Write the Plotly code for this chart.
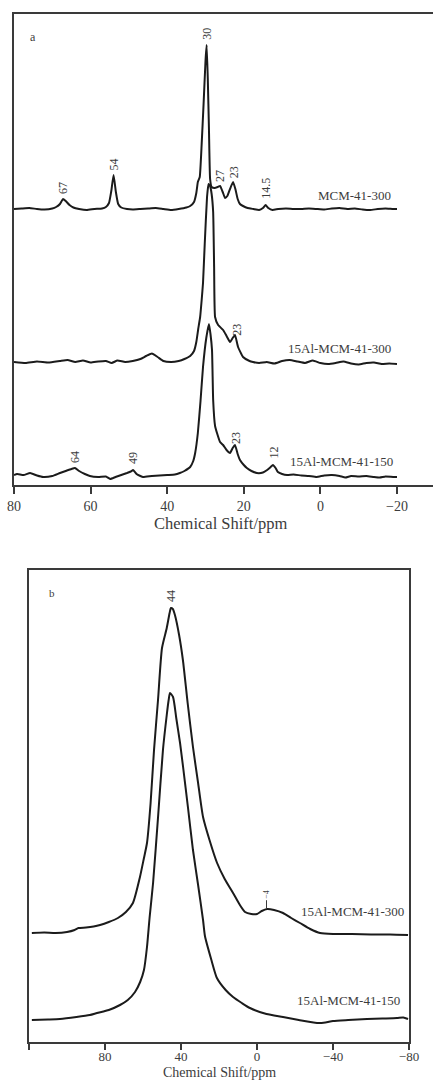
import numpy as np
import plotly.graph_objects as go

# ================= Panel a : 13C NMR (ppm, intensity a.u. above own baseline) =================
a_mcm300_ppm = [80, 78, 76, 74, 72, 70, 69, 68, 67.2, 66.5, 65.5, 64.5, 63, 61, 59, 57, 56, 55.2, 54.6,
                54.0, 53.4, 52.8, 52, 50.5, 49, 47, 45, 43, 41, 39, 37, 35, 34, 33, 32.4, 32.0, 31.5,
                31.0, 30.5, 30.0, 29.7, 29.4, 29.1, 28.8, 28.4, 27.6, 26.8, 26.2, 25.5, 24.9, 24.3,
                23.6, 22.8, 22.2, 21.6, 21.0, 20.2, 19, 17.5, 16, 15, 14.3, 13.6, 12.5, 11, 9, 7, 5,
                3, 1, -1, -3, -5, -7, -9, -11, -13, -15, -17, -19, -20]
a_mcm300_int = [0, 0.5, 1, 0, -0.5, 0.5, 2, 5, 10, 8, 4, 1.5, 0, -1, 0, 0.5, 2, 6, 18,
                34, 17, 5, 1.5, 0, -0.5, 0, 0.5, 1, 0, -1, 0, 1.5, 3, 7, 16, 27, 32,
                65, 105, 148, 164, 130, 80, 30, 22, 21, 22, 23, 17, 11, 13,
                20, 27, 20, 10, 5, 3, 1, 0, -1, 1, 4, 1, -1, 0, 0.5, 0, 0,
                0.5, 0, -0.5, 0.5, 1, 0, 0.5, -0.5, -1, 0, 0.5, 0, 0]

a_al300_ppm = [80, 77, 74, 71, 68, 66, 64, 62, 60, 58, 56, 54.5, 53, 51, 49, 47, 45.5, 44, 42.5, 41,
               39, 37, 35.5, 34, 33, 32.4, 31.9, 31.4, 31.0, 30.65, 30.2, 29.6, 29.2, 28.8, 28.4,
               28.0, 27.75, 27.5, 26.7, 25.4, 24.5, 23.6, 22.9, 22.3, 21.5, 20.2, 18.5, 17.6, 16,
               14, 12, 10, 8, 6, 4, 2, 0, -2, -4, -6, -8, -10, -12, -14, -16, -18, -20]
a_al300_int = [0, -1, 0.5, -0.5, 1, 2, 0, 1.5, -0.5, 0.5, 1, -1, 1.5, 0, 1, 3, 6, 8.5, 5, 1,
               0, 1, 3, 6, 11, 20, 33, 45, 62, 79, 118, 165, 178, 176, 168,
               150, 95, 45, 37, 32, 26, 20, 24, 27, 15, 5, 1, 0, -1,
               0, -1.5, 1, 2, 0.5, -1, 1.5, -1, -2, -1, 0.5, -1.5, -2.5, -1, -0.5, -2, -1.5, -2]

a_al150_ppm = [80, 79.2, 77.5, 75.8, 74, 72.4, 70, 68, 66.5, 65, 64.1, 63, 61.5, 60.2, 58, 56, 54.9,
               53.5, 52, 50.5, 49.5, 48.9, 48, 47, 46.3, 44, 42, 40, 38, 36.7, 35.5, 34, 33.2,
               32.7, 32, 31.3, 30.65, 29.8, 29.1, 28.7, 28.3, 28.0, 27.5, 27.0, 26.2, 25.4, 24.5,
               23.6, 22.9, 22.3, 21.6, 21.0, 20, 19.2, 18, 16.6, 15, 13.9, 13, 12.4, 11.7, 11.1,
               10, 8.7, 7, 5, 3, 1, -1, -3, -5, -6.5, -8, -10, -12, -14, -15.5, -17, -19, -20]
a_al150_int = [1, 2, 1, 3, 0.5, -1, 0, 3, 5, 7, 8, 5, 2, 0, -1, -0.5, -3,
               -1, 1, 3, 4.5, 6, 2, 0, -1, 0, 0.5, 1, 1.5, 3, 5, 9, 15,
               23, 43, 75, 109, 138, 152, 142, 126, 76, 50, 43, 34, 31, 26,
               23, 28, 31, 22, 16, 11, 8, 5, 3, 3.5, 6, 9, 11, 8, 4,
               2, 1, 1.5, 0.5, 0, -1, 0.5, 1, 0, -1.5, 0, -0.5, 0, -1, -1.5, -0.5, -1, -1]

a_names = ["MCM-41-300", "15Al-MCM-41-300", "15Al-MCM-41-150"]
a_offsets = [276, 123, 9]
a_ticks = [80, 60, 40, 20, 0, -20]
a_ticktext = ["80", "60", "40", "20", "0", "\u221220"]

# peak labels: (text, series index, ppm)
a_peaks = [("30", 0, 29.7), ("54", 0, 54.0), ("67", 0, 67.2), ("27", 0, 26.2), ("23", 0, 22.6),
           ("14.5", 0, 14.1), ("23", 1, 22.0), ("64", 2, 64.1), ("49", 2, 48.9), ("23", 2, 22.0),
           ("12", 2, 12.2)]
a_gaps = [3, 2, 3, 2, 4, 5, 2, 3, 4, 3, 5]

# ================= Panel b : 27Al NMR =================
b_al300_ppm = [118.5, 112, 106, 100, 96, 94, 90, 86, 82.6, 78, 73.2, 69, 65.3, 61.6, 59.5, 57.9, 56,
               54.2, 52.1, 50, 47.5, 46, 45.3, 44.3, 43.2, 41, 39, 36.5, 33.7, 31, 28.4, 25, 21, 17,
               12.6, 9, 6.3, 3, 0, -2.5, -5.3, -9, -13.7, -18, -22.6, -28, -33.2, -40, -50, -60,
               -70, -79.5]
b_al300_int = [0, 0.5, 0, 1, 3, 5, 5.5, 6.5, 8, 11, 15, 21, 30, 56, 75, 90, 130,
               183, 233, 285, 305, 320, 325, 324, 318, 298, 273, 230, 186, 150, 116, 93, 70, 54,
               40, 28, 21, 19, 19, 22, 24, 23, 20, 15, 10, 4, 0, -1, -1, -1.5,
               -1.5, -2]

b_al150_ppm = [118.5, 110, 103.7, 95, 88, 84.2, 78, 72.1, 68, 64.2, 61.5, 59.5, 57.9, 56.5, 54.7,
               52, 49.5, 47.5, 46.5, 45.8, 44.2, 42.5, 40.5, 38.9, 36.3, 33.7, 31, 28.4, 27.4, 24,
               21.1, 16.5, 12.6, 8, 3.7, -5, -13.7, -22, -31.6, -36, -40, -48, -57.9, -66, -73.7,
               -77, -79.5]
b_al150_int = [0, 0.5, 1, 3, 5, 7, 10, 15, 20, 28, 38, 50, 73, 103, 137,
               205, 270, 305, 320, 327, 323, 302, 277, 253, 212, 170, 135, 100, 84, 60,
               42, 30, 23, 17, 12, 6, 3, 0, -3, -2.5, -1, 0, 1, 1.5, 2,
               2.5, 1]

b_names = ["15Al-MCM-41-300", "15Al-MCM-41-150"]
b_offsets = [109, 22]
b_ticks = [120, 80, 40, 0, -40, -80]
b_ticktext = ["", "80", "40", "0", "\u221240", "\u221280"]

# ================= figure =================
LINE = "#1b1b1b"
AX = "#3a3a3a"
TXT = "#3c3c3c"
FONT = "Liberation Serif"
W, H = 433, 1082

fig = go.Figure()

a_series = [(a_mcm300_ppm, a_mcm300_int), (a_al300_ppm, a_al300_int), (a_al150_ppm, a_al150_int)]
for (px, py), off, nm in zip(a_series, a_offsets, a_names):
    fig.add_trace(go.Scatter(x=px, y=np.array(py) + off, mode="lines", name=nm,
                             line=dict(color=LINE, width=2, shape="spline", smoothing=0.4),
                             xaxis="x", yaxis="y"))

b_series = [(b_al300_ppm, b_al300_int), (b_al150_ppm, b_al150_int)]
for (px, py), off, nm in zip(b_series, b_offsets, b_names):
    fig.add_trace(go.Scatter(x=px, y=np.array(py) + off, mode="lines", name=nm,
                             line=dict(color=LINE, width=2, shape="spline", smoothing=0.6),
                             xaxis="x2", yaxis="y2"))

ann = []
# peak labels panel a
for (t, si, ppm), g in zip(a_peaks, a_gaps):
    px, py = a_series[si]
    yv = np.interp(ppm, px[::-1], py[::-1]) + a_offsets[si]
    ann.append(dict(x=ppm, y=yv, xref="x", yref="y", text=t, showarrow=False, textangle=-90,
                    xanchor="center", yanchor="bottom", yshift=g,
                    font=dict(family=FONT, size=12, color=TXT)))
# series names panel a
a_name_pos = [(-9.0, 14), (-5.1, 14), (-5.6, 15)]
for nm, off, (xp, ys) in zip(a_names, a_offsets, a_name_pos):
    ann.append(dict(x=xp, y=off, xref="x", yref="y", text=nm, showarrow=False,
                    xanchor="center", yanchor="middle", yshift=ys,
                    font=dict(family=FONT, size=13, color=TXT)))
ann.append(dict(x=75, y=448, xref="x", yref="y", text="a", showarrow=False,
                font=dict(family=FONT, size=12, color=TXT)))
ann.append(dict(x=26, y=1 - 523 / H, xref="x", yref="paper", text="Chemical Shift/ppm",
                showarrow=False, xanchor="center", yanchor="middle",
                font=dict(family=FONT, size=16.5, color=TXT)))

# panel b labels
yb44 = np.interp(45.3, b_al300_ppm[::-1], b_al300_int[::-1]) + b_offsets[0]
ann.append(dict(x=45.3, y=yb44, xref="x2", yref="y2", text="44", showarrow=False, textangle=-90,
                xanchor="center", yanchor="bottom", yshift=4,
                font=dict(family=FONT, size=12, color=TXT)))
ybm4 = np.interp(-5.0, b_al300_ppm[::-1], b_al300_int[::-1]) + b_offsets[0]
ann.append(dict(x=-5.0, y=ybm4, xref="x2", yref="y2", text="\u22124", showarrow=True, arrowhead=0,
                arrowwidth=1, arrowcolor=TXT, ax=0, ay=-15, textangle=-90, standoff=1,
                font=dict(family=FONT, size=8, color=TXT)))
b_name_pos = [(-50.0, 22), (-47.9, 20)]
for nm, off, (xp, ys) in zip(b_names, b_offsets, b_name_pos):
    ann.append(dict(x=xp, y=off, xref="x2", yref="y2", text=nm, showarrow=False,
                    xanchor="center", yanchor="middle", yshift=ys,
                    font=dict(family=FONT, size=13, color=TXT)))
ann.append(dict(x=108, y=449, xref="x2", yref="y2", text="b", showarrow=False,
                font=dict(family=FONT, size=11, color=TXT)))
ann.append(dict(x=20, y=0, xref="x2", yref="paper", text="Chemical Shift/ppm",
                showarrow=False, xanchor="center", yanchor="bottom",
                font=dict(family=FONT, size=14, color=TXT)))

fig.update_layout(
    width=W, height=H, margin=dict(l=0, r=0, t=0, b=0, pad=0), autosize=False,
    paper_bgcolor="white", plot_bgcolor="white", showlegend=False,
    annotations=ann,
    xaxis=dict(domain=[14 / W, 1.0], range=[80, -29.4], showline=True, linecolor=AX, linewidth=1.5,
               mirror=True, ticks="outside", ticklen=7, tickwidth=1.5, tickcolor=AX,
               tickvals=a_ticks, ticktext=a_ticktext, showgrid=False, zeroline=False,
               automargin=False,
               tickfont=dict(family=FONT, size=14, color=TXT), anchor="y"),
    yaxis=dict(domain=[1 - 485 / H, 1 - 14 / H], range=[0, 471], showline=True, linecolor=AX,
               linewidth=1.5, mirror=False, showticklabels=False, ticks="", showgrid=False,
               zeroline=False, anchor="x", automargin=False),
    xaxis2=dict(domain=[29 / W, 409 / W], range=[120, -80], showline=True, linecolor=AX,
                linewidth=1.5, mirror=True, ticks="outside", ticklen=6, tickwidth=1.5, tickcolor=AX,
                tickvals=b_ticks, ticktext=b_ticktext, showgrid=False, zeroline=False,
                automargin=False, ticklabelstandoff=-4,
                tickfont=dict(family=FONT, size=13, color=TXT), anchor="y2"),
    yaxis2=dict(domain=[1 - 1042 / H, 1 - 570 / H], range=[0, 472], showline=True, linecolor=AX,
                linewidth=1.5, mirror=True, showticklabels=False, ticks="", showgrid=False,
                zeroline=False, anchor="x2", automargin=False),
)

fig.write_html("out.html", post_script="document.body.style.margin='0px';")
